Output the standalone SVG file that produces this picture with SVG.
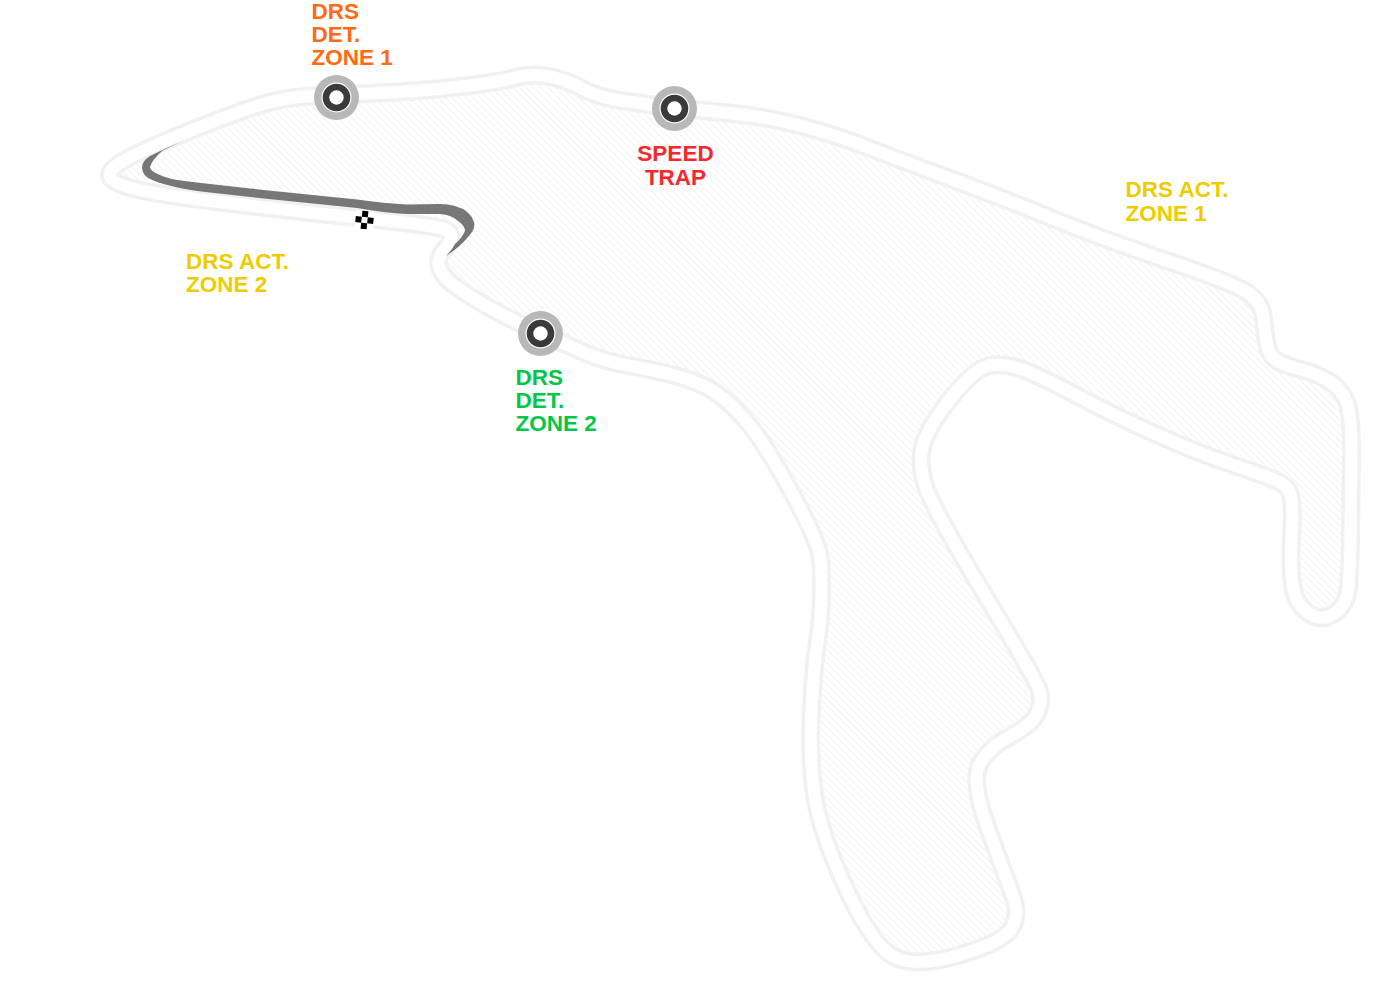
<svg xmlns="http://www.w3.org/2000/svg" width="1390" height="989" viewBox="0 0 1390 989">
<style>
.lbl{font-family:"Liberation Sans",Arial,sans-serif;font-weight:700;font-size:22.5px}
.halo{fill:#b8b8b8}.gap{fill:#fff}.ring{fill:#3a3a3a}.hole{fill:#fff}
</style>
<defs>
<pattern id="hatch" patternUnits="userSpaceOnUse" width="5" height="5" patternTransform="rotate(-45)">
<rect width="5" height="5" fill="#fff"/><rect x="0" width="1" height="5" fill="#f3f3f3"/>
</pattern>
<path id="trackPath" d="M117,165 Q130,155 186,132.5 Q242,110 265,103.5 Q288,97 312,96 Q336,95 379.5,93 Q423,91 461.5,86.5 Q500,82 516,77.5 Q532,73 549.5,76.5 Q567,80 582,88.5 Q597,97 623.5,101 Q650,105 675,107.5 Q700,110 733.5,113.5 Q767,117 800,125.5 Q833,134 866.5,147 Q900,160 950,178.5 Q1000,197 1050,217.5 Q1100,238 1166.5,260.5 Q1233,283 1247.5,292.5 Q1262,302 1263.5,318.5 Q1265,335 1267.5,346.5 Q1270,358 1280,362.5 Q1290,367 1302.5,370 Q1315,373 1328,380.5 Q1341,388 1346.5,401.5 Q1352,415 1351.5,457.5 Q1351,500 1350.5,535 Q1350,570 1348.5,587.5 Q1347,605 1334.5,613.5 Q1322,622 1309,613.5 Q1296,605 1293,587.5 Q1290,570 1291.5,540 Q1293,510 1291.5,499 Q1290,488 1281,483 Q1272,478 1236,466 Q1200,454 1156.5,434.5 Q1113,415 1076.5,395.5 Q1040,376 1022.5,369.5 Q1005,363 990,365.5 Q975,368 951.5,397.5 Q928,427 923,445 Q918,463 925.5,486 Q933,509 984,593.5 Q1035,678 1039,689 Q1043,700 1037.5,712.5 Q1032,725 1010,736.5 Q988,748 979.5,765 Q971,782 988,828.5 Q1005,875 1012.5,895 Q1020,915 1011.5,928.5 Q1003,942 961.5,954.5 Q920,967 897.5,958.5 Q875,950 847.5,891.5 Q820,833 814.5,795 Q809,757 811.5,710 Q814,663 817.5,641.5 Q821,620 821.5,595 Q822,570 820,555.5 Q818,541 790.5,490.5 Q763,440 744,418.5 Q725,397 709,388.5 Q693,380 673,375 Q653,370 628,365.5 Q603,361 584,352.5 Q565,344 527.5,327 Q490,310 459,289 Q428,268 444,250 Q460,232 440,228 Q420,224 385,220.5 Q350,217 270,208 Q190,199 157.5,193.5 Q125,188 114.5,181.5 Q104,175 117,165 Z"/>
</defs>
<rect width="1390" height="989" fill="#fff"/>
<g id="connectors">
<use href="#trackPath" fill="url(#hatch)" stroke="#f1f1f1" stroke-width="19" stroke-linejoin="round"/>
<use href="#trackPath" fill="none" stroke="#fff" stroke-width="12" stroke-linejoin="round"/>
<path id="sector" fill="#777" d="M180,142 Q162,150 150,156 Q142,161 142,168 Q143,176 150,179 Q165,186 197,191 L250,197 L357,208 Q385,213 407,214 L440,214 Q452,215 458,221 Q465,226 465,231 Q462,238 455,244 Q452,250 446,256 Q460,247 468,237 Q476,229 474,222 Q470,210 455,206 Q448,204 440,204 L407,204.5 Q385,203.500 357,199.500 L250,188.500 L197,182.500 Q170,180 160,175 Q150,171 150,167 Q152,160 162,151 Q170,147 180,142 Z"/>
</g>
<g id="start-finish" transform="rotate(6 364.500 220)">
<rect x="355.500" y="211" width="18" height="18" fill="#fff"/>
<rect x="361.500" y="211" width="6" height="6" fill="#000"/>
<rect x="355.500" y="217" width="6" height="6" fill="#000"/>
<rect x="367.500" y="217" width="6" height="6" fill="#000"/>
<rect x="361.500" y="223" width="6" height="6" fill="#000"/>
</g>
<g id="drs-det-1">
<circle class="halo" cx="336.500" cy="97.500" r="22.500"/><circle class="gap" cx="336.500" cy="97.500" r="15"/><circle class="ring" cx="336.500" cy="97.500" r="13.800"/><circle class="hole" cx="336.500" cy="97.500" r="7.200"/>
<text class="lbl" fill="#ff6a13"><tspan x="311.500" y="19">DRS</tspan><tspan x="311.500" y="42">DET.</tspan><tspan x="311.500" y="65">ZONE 1</tspan></text>
</g>
<g id="speed-trap">
<circle class="halo" cx="674.500" cy="108.500" r="22.500"/><circle class="gap" cx="674.500" cy="108.500" r="15"/><circle class="ring" cx="674.500" cy="108.500" r="13.800"/><circle class="hole" cx="674.500" cy="108.500" r="7.200"/>
<text class="lbl" fill="#f5282d" text-anchor="middle"><tspan x="675.500" y="161">SPEED</tspan><tspan x="675.500" y="185">TRAP</tspan></text>
</g>
<g id="drs-det-2">
<circle class="halo" cx="540.500" cy="333.500" r="22.500"/><circle class="gap" cx="540.500" cy="333.500" r="15"/><circle class="ring" cx="540.500" cy="333.500" r="13.800"/><circle class="hole" cx="540.500" cy="333.500" r="7.200"/>
<text class="lbl" fill="#00c846"><tspan x="515.500" y="385">DRS</tspan><tspan x="515.500" y="408">DET.</tspan><tspan x="515.500" y="431">ZONE 2</tspan></text>
</g>
<g id="drs-act-1">
<text class="lbl" fill="#eecc00"><tspan x="1125.500" y="197">DRS ACT.</tspan><tspan x="1125.500" y="221">ZONE 1</tspan></text>
</g>
<g id="drs-act-2">
<text class="lbl" fill="#eecc00"><tspan x="186" y="269">DRS ACT.</tspan><tspan x="186" y="292">ZONE 2</tspan></text>
</g>
</svg>
